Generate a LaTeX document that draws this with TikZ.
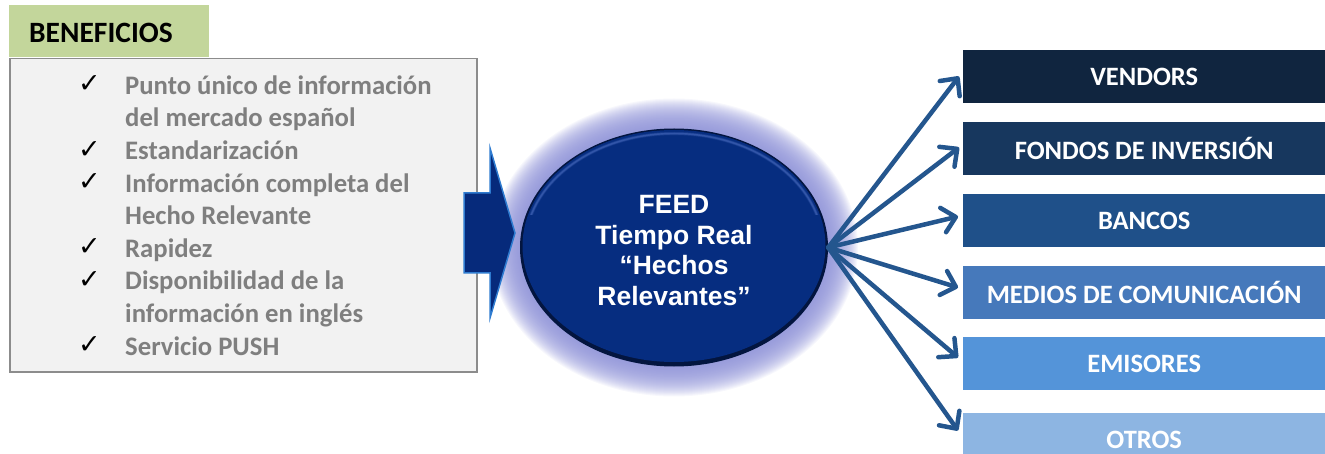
\documentclass[tikz,border=0pt]{standalone}
\usepackage{fontspec}
\setmainfont{Carlito}
\newfontfamily\arialfont{Liberation Sans}
\newfontfamily\symfont{DejaVu Sans}
\usetikzlibrary{shapes.geometric,arrows.meta}
\definecolor{benegreen}{HTML}{C3D69B}
\definecolor{boxfill}{HTML}{F2F2F2}
\definecolor{boxline}{HTML}{8C8C8C}
\definecolor{listgray}{HTML}{7F7F7F}
\definecolor{feedblue}{HTML}{062D80}
\definecolor{feedrim}{HTML}{03153F}
\definecolor{feedhi}{HTML}{4A6CC0}
\definecolor{glowc}{HTML}{8A8ED6}
\definecolor{blockfill}{HTML}{062A7B}
\definecolor{blockline}{HTML}{2E7BD0}
\definecolor{arrowc}{HTML}{24568E}
\definecolor{cA}{HTML}{10253F}
\definecolor{cB}{HTML}{17375E}
\definecolor{cC}{HTML}{1F5089}
\definecolor{cD}{HTML}{4679BB}
\definecolor{cE}{HTML}{5494D9}
\definecolor{cF}{HTML}{8DB5E2}
\tikzset{
  listtxt/.style={anchor=base west,inner sep=0,text=listgray,font=\fontsize{26.7}{32}\selectfont\bfseries},
  chk/.style={anchor=base west,inner sep=0,font=\symfont\fontsize{27}{30}\selectfont},
  target/.style={anchor=west,minimum width=362pt,minimum height=53pt,inner sep=0,text=white,
    font=\fontsize{26.5}{32}\selectfont\bfseries},
  fanout/.style={draw=arrowc,line width=4.5pt,line cap=round,
    -{Straight Barb[length=13pt,width=25pt,line cap=round,line join=round]}}
}
\begin{document}
\begin{tikzpicture}[x=1pt,y=-1pt]
\useasboundingbox (0,0) rectangle (1325,454);
% left panel
\node[fill=benegreen,anchor=north west,minimum width=200pt,minimum height=52pt,inner sep=0] (beneb) at (9,5) {};
\node[anchor=base west,inner sep=0,font=\fontsize{29.5}{32}\selectfont\bfseries] (benet) at (29,43) {BENEFICIOS};
\node[draw=boxline,line width=1.5pt,fill=boxfill,anchor=north west,minimum width=467pt,minimum height=313pt,inner sep=0] (listbox) at (9,58) {};
\node[chk] (k1) at (78,93) {✓};
\node[listtxt] (l1) at (125,94.3) {Punto único de información};
\node[listtxt] (l2) at (125,126.9) {del mercado español};
\node[chk] (k3) at (78,158.2) {✓};
\node[listtxt] (l3) at (125,159.5) {Estandarización};
\node[chk] (k4) at (78,190.8) {✓};
\node[listtxt] (l4) at (125,192.1) {Información completa del};
\node[listtxt] (l5) at (125,224.7) {Hecho Relevante};
\node[chk] (k6) at (78,256) {✓};
\node[listtxt] (l6) at (125,257.3) {Rapidez};
\node[chk] (k7) at (78,288.6) {✓};
\node[listtxt] (l7) at (125,289.9) {Disponibilidad de la};
\node[listtxt] (l8) at (125,322.5) {información en inglés};
\node[chk] (k9) at (78,353.8) {✓};
\node[listtxt] (l9) at (125,355.1) {Servicio PUSH};
% glow
\coordinate (fc) at (674,247.5);
\foreach \i in {30,29,...,1}{
  \fill[glowc,opacity=0.065] (fc) ellipse [x radius=154+\i, y radius=119+\i];
}
% block arrow
\draw[fill=blockfill,draw=blockline,line width=1.5pt,line join=miter]
  (464,193) -- (490,193) -- (490,148) -- (515,233) -- (490,318) -- (490,273) -- (464,273) -- cycle;
% ellipse
\node[ellipse,fill=feedrim,minimum width=308pt,minimum height=238pt,inner sep=0] (feed) at (fc) {};
\fill[feedblue] ([yshift=1.5pt]fc) ellipse [x radius=151.5, y radius=116];
\begin{scope}
\clip (500,100) rectangle (850,215);
\foreach \w/\o in {3.5/0.15,2.5/0.25,1.4/0.45}{
  \draw[feedhi,line width=\w pt,opacity=\o] (fc) ellipse [x radius=149, y radius=114];
}
\end{scope}
\node[align=center,inner sep=0,text=white,font=\arialfont\bfseries\fontsize{26.5}{30.5}\selectfont] (feedtxt) at ([yshift=-3pt]fc) {FEED\\Tiempo Real\\“Hechos\\Relevantes”};
% targets
\node[target,fill=cA] (t1) at (963,76.5) {VENDORS};
\node[target,fill=cB] (t2) at (963,148.5) {FONDOS DE INVERSIÓN};
\node[target,fill=cC] (t3) at (963,220.5) {BANCOS};
\node[target,fill=cD] (t4) at (963,292.5) {MEDIOS DE COMUNICACIÓN};
\node[target,fill=cE] (t5) at (963,363.5) {EMISORES};
\node[target,fill=cF,yshift=-4pt] (t6) at (963,435.5) {OTROS};
% arrows
\draw[fanout] (feed.east) -- ([xshift=-4pt]t1.west);
\draw[fanout] (feed.east) -- ([xshift=-4pt,yshift=1pt]t2.west);
\draw[fanout] (feed.east) -- ([xshift=-5pt,yshift=4pt]t3.west);
\draw[fanout] (feed.east) -- ([xshift=-5pt,yshift=5pt]t4.west);
\draw[fanout] (feed.east) -- ([xshift=-5pt,yshift=6pt]t5.west);
\draw[fanout] (feed.east) -- ([xshift=-5pt,yshift=9pt]t6.west);
\end{tikzpicture}
\end{document}
